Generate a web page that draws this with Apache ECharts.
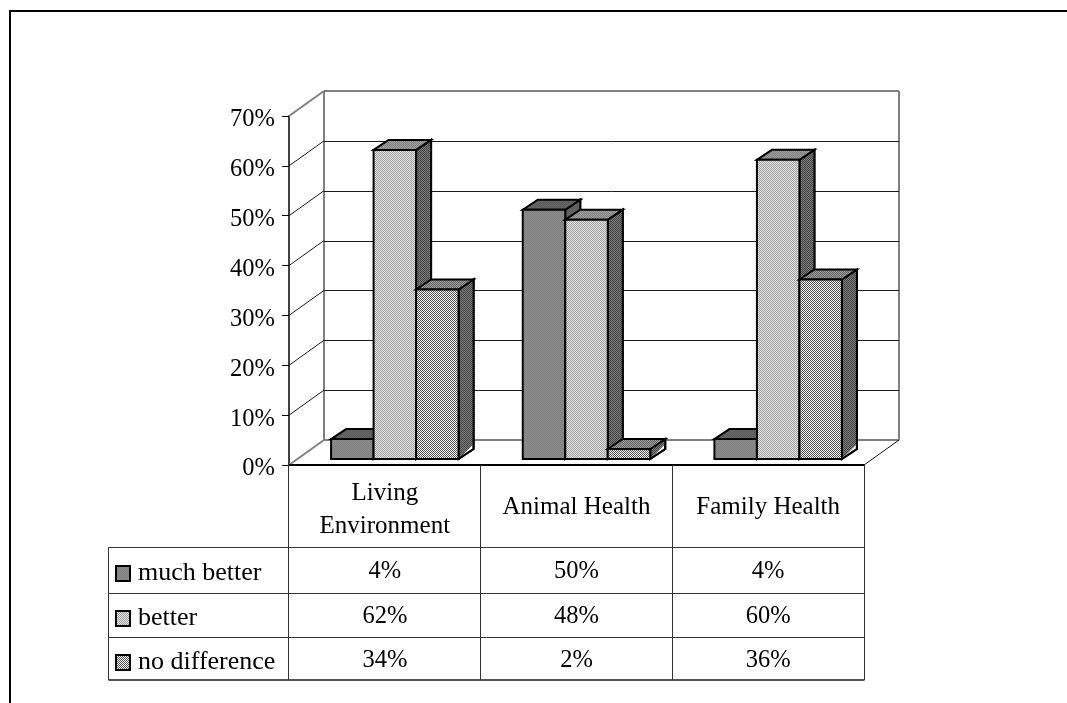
<!DOCTYPE html>
<html><head><meta charset="utf-8">
<style>html,body{margin:0;padding:0;background:#fff}#c{width:1067px;height:703px}</style>
<script src="https://cdn.jsdelivr.net/npm/echarts@6/dist/echarts.min.js"></script>
</head><body><div id="c"></div>
<script>
const categories = ['Living\nEnvironment', 'Animal Health', 'Family Health'];
const seriesNames = ['much better', 'better', 'no difference'];
const muchBetter = [4, 50, 4];
const better = [62, 48, 60];
const noDifference = [34, 2, 36];
const ticks = [0, 10, 20, 30, 40, 50, 60, 70];

const SERIF = '"Liberation Serif"';
const DEPTH = [35, 25], BAR_SHIFT = [10, 6], BAR_DEPTH = [15, 10], BAR_W = 42.5;
const TABLE = { xs: [108.5, 288.5, 480.5, 672.5, 864.5], ys: [465, 547.5, 593.5, 637.5, 680], rows: [570, 615, 659], legendTextX: 138, keyX: 116 };

function dither(a, b) {
  const c = document.createElement('canvas'); c.width = c.height = 2;
  const g = c.getContext('2d');
  g.fillStyle = a; g.fillRect(0, 0, 2, 2);
  g.fillStyle = b; g.fillRect(0, 0, 1, 1); g.fillRect(1, 1, 1, 1);
  return { image: c, repeat: 'repeat' };
}
const faces = [
  { front: dither('#8c8c8c', '#808080'), top: dither('#666666', '#5c5c5c'), side: dither('#666666', '#5c5c5c') },
  { front: dither('#e4e4e4', '#a0a0a0'), top: dither('#a0a0a0', '#808080'), side: dither('#808080', '#404040') },
  { front: dither('#f8f8f8', '#505050'), top: dither('#a0a0a0', '#606060'), side: dither('#808080', '#404040') }
];

function barSeries(name, values, idx) {
  return {
    type: 'custom', name, z: 3 + idx, clip: false, silent: true,
    data: values.map((v, i) => [i, v]),
    encode: { x: 0, y: 1 },
    renderItem(params, api) {
      const p = api.coord([api.value(0), api.value(1)]);
      const base = api.coord([api.value(0), 0]);
      const l = p[0] + BAR_SHIFT[0] + (idx - 1.5) * BAR_W, r = l + BAR_W;
      const t = p[1] - BAR_SHIFT[1], b = base[1] - BAR_SHIFT[1];
      const [dx, dy] = BAR_DEPTH;
      const line = { stroke: '#000', lineWidth: 2, lineJoin: 'miter' };
      const f = faces[idx];
      const poly = (pts, fill, s) => ({ type: 'polygon', shape: { points: pts }, style: Object.assign({ fill }, s || line) });
      const wedge = Math.min(5, Math.max(0, b - t));
      return {
        type: 'group', children: [
          poly([[r, t], [r + dx, t - dy], [r + dx, b - dy], [r, b]], '#fff'),
          poly([[r, t], [r + dx, t - dy], [r + dx, b - dy - wedge], [r + 1, b - 1]], f.side, { stroke: 'none' }),
          poly([[r, t], [r + dx, t - dy], [r + dx, b - dy], [r, b]], 'none'),
          poly([[l, t], [l + dx, t - dy], [r + dx, t - dy], [r, t]], f.top),
          poly([[l, t], [r, t], [r, b], [l, b]], f.front)
        ]
      };
    }
  };
}

const wallSeries = {
  type: 'custom', name: 'wall', z: 1, clip: false, silent: true,
  data: ticks.map(v => [0, v]),
  encode: { x: 0, y: 1 },
  renderItem(params, api) {
    const v = api.value(1), y = api.coord([0, v])[1];
    const x0 = params.coordSys.x, x1 = x0 + params.coordSys.width;
    const edge = v === ticks[0] || v === ticks[ticks.length - 1];
    const s = edge ? { stroke: '#808080', lineWidth: 2 } : { stroke: '#1a1a1a', lineWidth: 1 };
    const by = edge ? y - DEPTH[1] : Math.round(y - DEPTH[1]) + 0.5;
    const ch = [
      { type: 'line', shape: { x1: x0, y1: y, x2: x0 + DEPTH[0], y2: y - DEPTH[1] }, style: s },
      { type: 'line', shape: { x1: x0 + DEPTH[0], y1: by, x2: x1 + DEPTH[0], y2: by }, style: s },
      { type: 'text', style: { x: x0 - 14, y: y + 4, text: v + '%', align: 'right', verticalAlign: 'middle', font: '24.5px ' + SERIF, fill: '#000' } }
    ];
    if (v === ticks[0]) {
      ch.push({ type: 'line', shape: { x1: x1, y1: y, x2: x1 + DEPTH[0], y2: y - DEPTH[1] }, style: { stroke: '#111', lineWidth: 1 } });
      const top = api.coord([0, ticks[ticks.length - 1]])[1] - DEPTH[1];
      [x0, x1].forEach(x => ch.push({ type: 'line', shape: { x1: x + DEPTH[0], y1: top, x2: x + DEPTH[0], y2: y - DEPTH[1] }, style: { stroke: '#808080', lineWidth: 2 } }));
    }
    return { type: 'group', children: ch };
  }
};

const cellSeries = {
  type: 'custom', name: 'cells', z: 6, clip: false, silent: true,
  data: categories.map((c, i) => [i, 0]),
  encode: { x: 0, y: 1 },
  renderItem(params, api) {
    const i = api.value(0), x = api.coord([i, 0])[0];
    const txt = (text, y, size) => ({ type: 'text', style: { x, y, text, align: 'center', verticalAlign: 'middle', font: size + 'px ' + SERIF, fill: '#000', lineHeight: 33 } });
    const two = categories[i].indexOf('\n') >= 0;
    return {
      type: 'group', children: [
        txt(categories[i], two ? 510 : 507, 25),
        txt(muchBetter[i] + '%', TABLE.rows[0] + 2, 24.5),
        txt(better[i] + '%', TABLE.rows[1] + 2, 24.5),
        txt(noDifference[i] + '%', TABLE.rows[2] + 2, 24.5)
      ]
    };
  }
};

const g = [];
const ln = (x1, y1, x2, y2, stroke, lineWidth) => g.push({ type: 'line', z: 10, shape: { x1, y1, x2, y2 }, style: { stroke, lineWidth } });
ln(9, 11, 1067, 11, '#000', 2);
ln(10, 10, 10, 703, '#000', 2);
const T = TABLE;
ln(T.xs[1], T.ys[0], T.xs[4], T.ys[0], '#000', 2);
ln(T.xs[0], T.ys[1], T.xs[4], T.ys[1], '#333', 1);
ln(T.xs[0], T.ys[2], T.xs[4], T.ys[2], '#333', 1);
ln(T.xs[0], T.ys[3], T.xs[4], T.ys[3], '#333', 1);
ln(T.xs[0], T.ys[4], T.xs[4], T.ys[4], '#555', 2);
ln(T.xs[0], T.ys[1], T.xs[0], T.ys[4], '#333', 1);
[1, 2, 3, 4].forEach(k => ln(T.xs[k], T.ys[0], T.xs[k], T.ys[4], '#333', 1));
seriesNames.forEach((n, i) => {
  g.push({ type: 'rect', z: 10, shape: { x: T.keyX, y: T.rows[i] - 4, width: 14, height: 15 }, style: { fill: faces[i].front, stroke: '#000', lineWidth: 2 } });
  g.push({ type: 'text', z: 10, style: { x: T.legendTextX, y: T.rows[i] + 3, text: n, align: 'left', verticalAlign: 'middle', font: '26px ' + SERIF, fill: '#000' } });
});

const chart = echarts.init(document.getElementById('c'), null, { renderer: 'canvas' });
chart.setOption({
  animation: false,
  backgroundColor: '#fff',
  grid: { left: 289, top: 116, width: 575, height: 349 },
  xAxis: { type: 'category', data: categories, axisLabel: { show: false }, axisTick: { show: false }, axisLine: { show: false } },
  yAxis: {
    type: 'value', min: 0, max: 70, interval: 10,
    axisLine: { show: true, lineStyle: { color: '#000', width: 1.5 } },
    axisTick: { show: true, length: 7, lineStyle: { color: '#000', width: 1 } },
    splitLine: { show: false },
    axisLabel: { show: false }
  },
  graphic: g,
  series: [wallSeries, barSeries(seriesNames[0], muchBetter, 0), barSeries(seriesNames[1], better, 1), barSeries(seriesNames[2], noDifference, 2), cellSeries]
});
</script></body></html>
